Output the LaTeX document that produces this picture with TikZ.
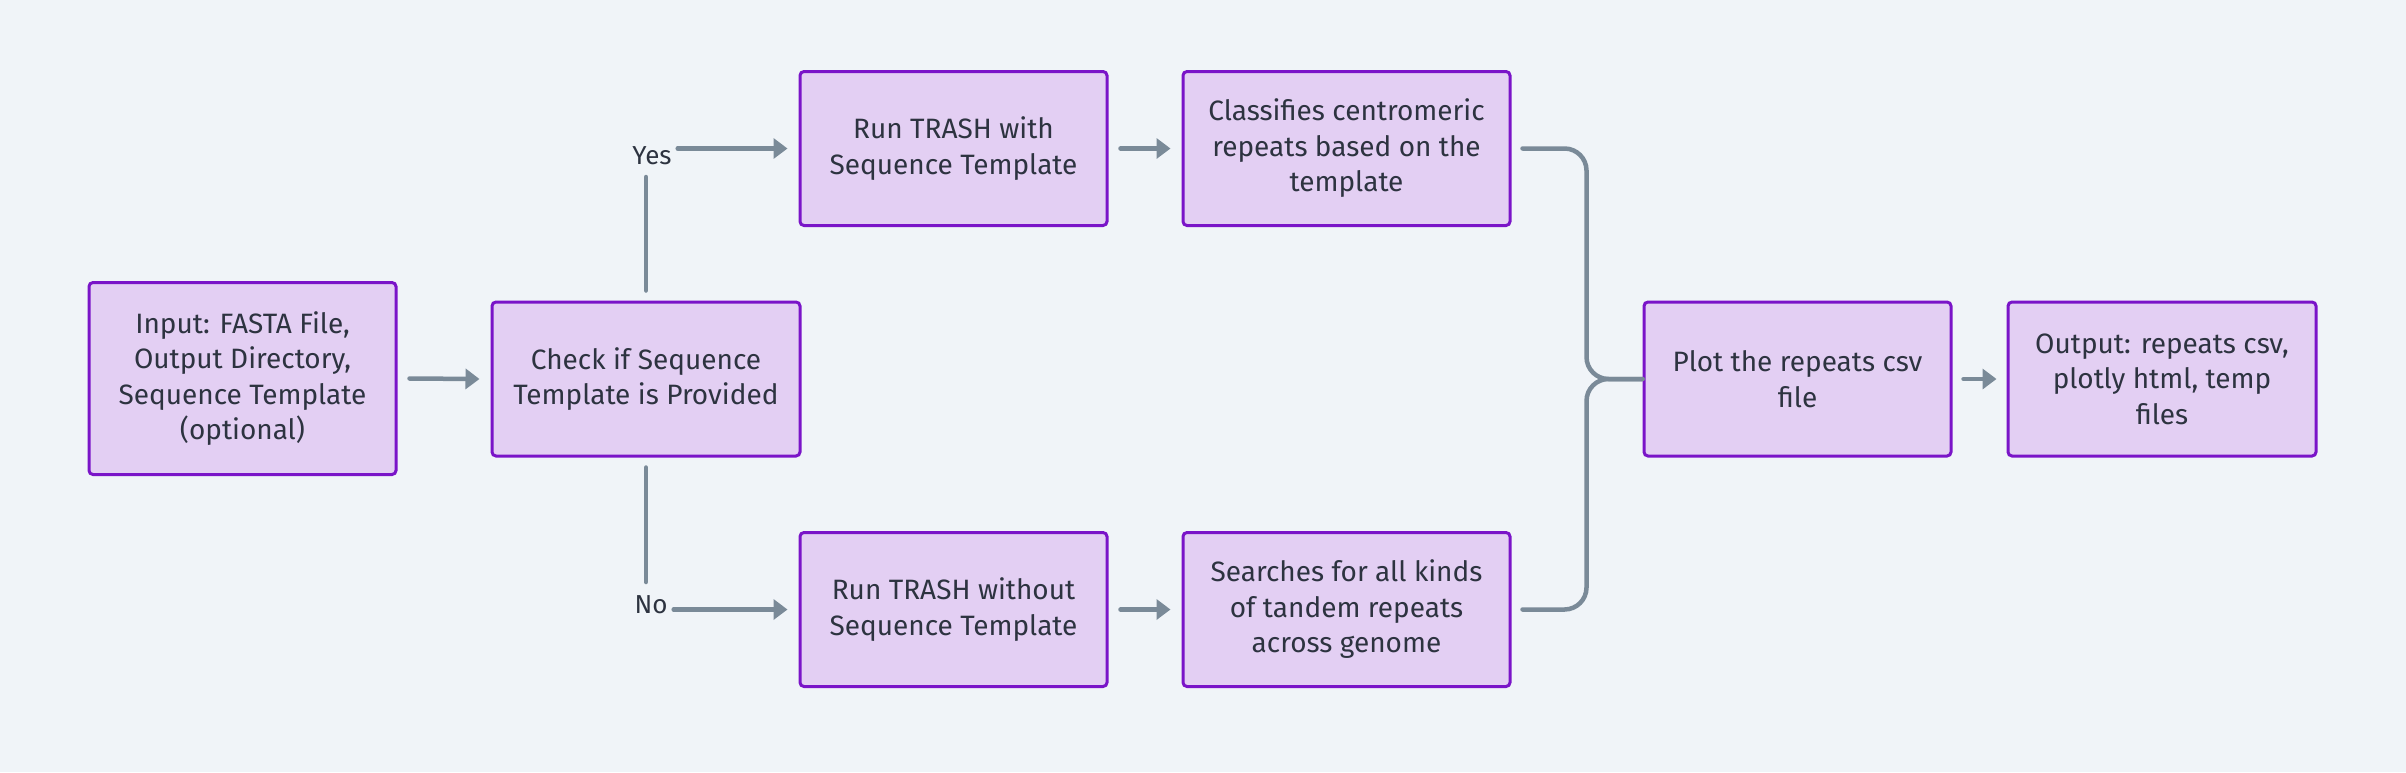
\documentclass[tikz,border=0pt]{standalone}
\usepackage{fontspec}
\setmainfont{Fira Sans}
\usetikzlibrary{arrows.meta}
\definecolor{bg}{HTML}{F0F4F8}
\definecolor{boxfill}{HTML}{E3CFF3}
\definecolor{boxline}{HTML}{7A14C8}
\definecolor{txt}{HTML}{2D3340}
\definecolor{conn}{HTML}{7A8A98}
\tikzset{
  stepbox/.style={draw=boxline, fill=boxfill, line width=3pt, rounded corners=4pt,
    minimum width=#1, minimum height=154pt, align=center, inner sep=0pt,
    text=txt, font=\fontsize{28}{35.5}\selectfont},
  lbl/.style={text=txt, font=\fontsize{26}{30}\selectfont, inner sep=0pt},
  link/.style={draw=conn, line width=4.5pt, line cap=round},
  arr/.style={link, -{Triangle[length=14pt,width=20pt]}},
}
\begin{document}
\begin{tikzpicture}[x=1pt,y=-1pt]
\useasboundingbox (0,0) rectangle (2406,772);
\fill[bg] (0,0) rectangle (2406,772);
\node[stepbox=307pt, minimum height=192pt] (input) at (242.5,378.5) {Input: FASTA File,\\Output Directory,\\Sequence Template\\(optional)};
\node[stepbox=308pt] (check) at (646,379) {Check if Sequence\\Template is Provided};
\node[stepbox=307pt] (runwith) at (953.5,148.5) {Run TRASH with\\Sequence Template};
\node[stepbox=327pt] (class) at (1346.5,148.5) {Classifies centromeric\\repeats based on the\\template};
\node[stepbox=307pt] (runwo) at (953.5,609.5) {Run TRASH without\\Sequence Template};
\node[stepbox=327pt] (search) at (1346.5,609.5) {Searches for all kinds\\of tandem repeats\\across genome};
\node[stepbox=307pt] (plot) at (1797.5,379) {Plot the repeats csv\\file};
\node[stepbox=308pt] (output) at (2162,379) {Output: repeats csv,\\plotly html, temp\\files};
\node[lbl] (yes) at (652,156) {Yes};
\node[lbl] (no) at (651,605) {No};
% connectors
\draw[arr] ([xshift=12pt]input.east) -- ([xshift=-11pt]check.west);
\draw[link] ([yshift=10pt]check.north) -- ([yshift=-177pt]check.north |- 0,0);
\draw[link] ([yshift=-10pt]check.south) -- (check.south |- 0,582);
\draw[arr] ([xshift=6pt]yes.east |- runwith.west) -- ([xshift=-11pt]runwith.west);
\draw[arr] ([xshift=6pt]no.east |- runwo.west) -- ([xshift=-11pt]runwo.west);
\draw[arr] ([xshift=12pt]runwith.east) -- ([xshift=-11pt]class.west);
\draw[arr] ([xshift=12pt]runwo.east) -- ([xshift=-11pt]search.west);
\draw[link, rounded corners=22pt] ([xshift=11pt]class.east) -- ([xshift=75pt]class.east) |- (plot.west);
\draw[link, rounded corners=22pt] ([xshift=11pt]search.east) -- ([xshift=75pt]search.east) |- (plot.west);
\draw[arr] ([xshift=11pt]plot.east) -- ([xshift=-10pt]output.west);
\end{tikzpicture}
\end{document}
